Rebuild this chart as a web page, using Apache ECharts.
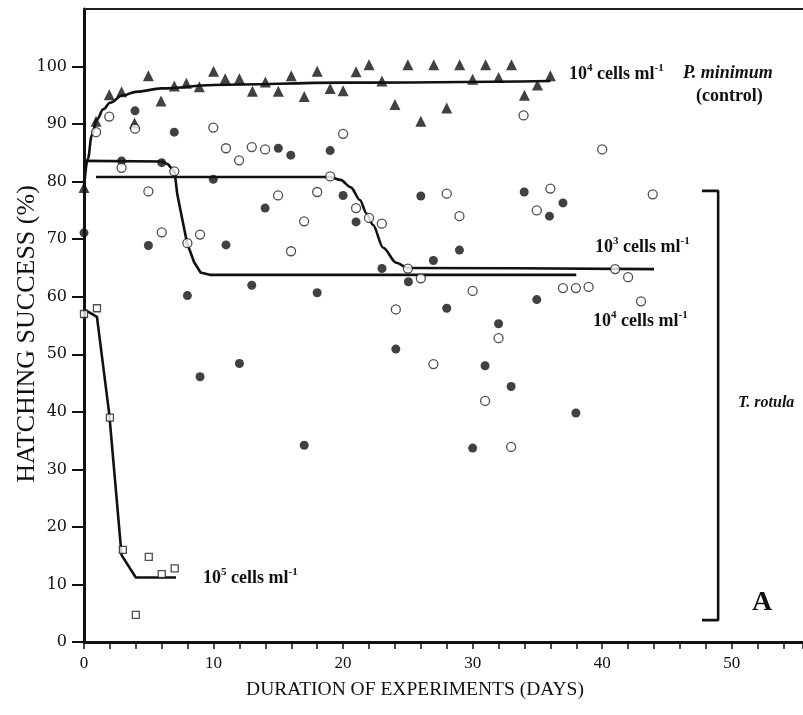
<!DOCTYPE html>
<html>
<head>
<meta charset="utf-8">
<script src="https://cdn.jsdelivr.net/npm/echarts@6/dist/echarts.min.js"></script>
<style>html,body{margin:0;padding:0;background:#fff}#c{width:803px;height:715px}</style>
</head>
<body>
<div id="c"></div>
<script>
// ---- data ----
var controlPts = [[0,79],[0.93,90.5],[1.95,95.1],[2.9,95.6],[3.9,90.2],[4.97,98.4],[5.95,94.0],[6.97,96.6],[7.9,97.1],[8.9,96.5],[10,99.2],[10.9,97.9],[12,97.9],[13,95.7],[14,97.3],[15,95.7],[16,98.4],[17,94.8],[18,99.2],[19,96.2],[20,95.8],[21,99.1],[22,100.3],[23,97.5],[24,93.4],[25,100.3],[26,90.5],[27,100.3],[28,92.8],[29,100.3],[30,97.8],[31,100.3],[32,98.1],[33,100.3],[34,95.0],[35,96.8],[36,98.4]];
var rot1e4Pts = [[0,71.1],[2.9,83.6],[3.94,92.3],[4.97,68.9],[6,83.3],[6.97,88.6],[7.98,60.2],[8.96,46.1],[9.98,80.4],[10.96,69.0],[12,48.4],[12.95,62.0],[13.98,75.4],[15,85.8],[15.96,84.6],[17,34.2],[18,60.7],[19,85.4],[20,77.6],[21,73.0],[23,64.9],[24.07,50.9],[25.04,62.6],[26,77.5],[26.97,66.3],[28,58.0],[28.98,68.1],[30,33.7],[30.96,48.0],[32,55.3],[32.97,44.4],[33.98,78.2],[34.95,59.5],[35.93,74.0],[36.97,76.3],[37.97,39.8]];
var rot1e3Pts = [[0.93,88.6],[1.95,91.3],[2.9,82.4],[3.94,89.2],[4.97,78.3],[6,71.2],[6.97,81.8],[7.98,69.3],[8.96,70.8],[9.98,89.4],[10.96,85.8],[11.97,83.7],[12.95,86.0],[13.98,85.6],[14.98,77.6],[15.98,67.9],[16.99,73.1],[18,78.2],[19,80.9],[20,88.3],[21,75.4],[22,73.7],[22.99,72.7],[24.07,57.8],[25,64.9],[26,63.2],[26.97,48.3],[28,77.9],[28.98,74.0],[30,61.0],[30.96,41.9],[32,52.8],[32.97,33.9],[33.93,91.5],[34.95,75.0],[36,78.8],[36.97,61.5],[37.97,61.5],[38.95,61.7],[40,85.6],[41,64.8],[42,63.4],[43,59.2],[43.9,77.8]];
var rot1e5Pts = [[0,57],[1,58],[2,39],[3,16],[4,4.7],[5,14.8],[6,11.8],[7,12.8]];

var controlFit = [[0,79],[0.3,84],[0.6,88],[1,90.8],[1.5,92.6],[2,93.7],[3,95],[4,95.6],[6,96.2],[10,96.8],[20,97.2],[36,97.5]];
var fit1e4 = [[0,83.6],[6,83.5],[6.5,83],[7,81.6],[7.2,77.8],[7.95,69.4],[8.5,66],[9,64.2],[9.7,63.8],[38,63.8]];
var fit1e3 = [[0.93,80.8],[19,80.8],[19.8,80.3],[20.6,79],[21.3,76.8],[21.8,74.5],[22.3,72.5],[23.1,68.5],[24.1,65.9],[25,65],[44,64.8]];
var fit1e5 = [[0,57.8],[1,56.5],[1.95,39.6],[2.9,15.1],[4,11.2],[7.1,11.2]];
var bracket = [[47.7,78.4],[48.95,78.4],[48.95,3.8],[47.7,3.8]];

var yTicks = [0,10,20,30,40,50,60,70,80,90,100];
var xTickLabels = [0,10,20,30,40,50];

var serif = '"Liberation Serif", "Times New Roman", serif';
var chart = echarts.init(document.getElementById('c'), null, {renderer:'canvas'});

function lineSeries(data, smooth) {
  return {type:'line', data:data, showSymbol:false, symbol:'none', smooth:smooth, smoothMonotone: smooth ? 'x' : undefined,
    lineStyle:{color:'#111', width:2.6}, z:3, silent:true, animation:false};
}
function scatterSeries(data, symbol, size, filled) {
  return {type:'scatter', data:data, symbol:symbol, symbolSize:size, z:5, animation:false,
    itemStyle: filled ? {color:'#111'} : {color:'#fff', borderColor:'#222', borderWidth:1.3}};
}

var rich = {
  b:{fontSize:18, fontFamily:serif, fontWeight:'bold', color:'#111', lineHeight:20, verticalAlign:'bottom'},
  sup:{fontSize:11, fontFamily:serif, fontWeight:'bold', color:'#111', lineHeight:11, verticalAlign:'top'}
};
function cellsLabel(x, y, exp) {
  return {type:'text', left:x, top:y, z:100,
    style:{text:'{b|10}{sup|' + exp + '}{b| cells ml}{sup|-1}', rich:rich, fontFamily:serif, fontSize:18, fill:'#111'}};
}
function plainLabel(x, y, text, size, italic) {
  return {type:'text', left:x, top:y, z:100,
    style:{text:text, fontFamily:serif, fontSize:size, fontWeight:'bold', fontStyle: italic ? 'italic' : 'normal', fill:'#111'}};
}

chart.setOption({
  animation:false,
  backgroundColor:'#fff',
  grid:{left:84, right:0, top:9, bottom:73},
  xAxis:[{
    type:'value', min:0, max:55.5, interval:2, position:'bottom',
    axisLine:{show:true, onZero:false, lineStyle:{color:'#111', width:3}},
    axisTick:{show:true, length:7, lineStyle:{color:'#111', width:1.5}},
    axisLabel:{show:true, customValues:xTickLabels, fontFamily:serif, fontSize:17, color:'#111', margin:13},
    splitLine:{show:false}
  },{
    type:'value', min:0, max:55.5, position:'top',
    axisLine:{show:true, onZero:false, lineStyle:{color:'#222', width:2}},
    axisTick:{show:false}, axisLabel:{show:false}, splitLine:{show:false}
  }],
  yAxis:{
    type:'value', min:0, max:110, interval:10,
    axisLine:{show:true, onZero:false, lineStyle:{color:'#111', width:3}},
    axisTick:{show:true, customValues:yTicks, length:12, lineStyle:{color:'#111', width:2}},
    axisLabel:{show:true, customValues:yTicks, fontFamily:'"DejaVu Serif", serif', fontSize:16, color:'#111', margin:17},
    splitLine:{show:false}
  },
  series:[
    lineSeries(controlFit, 0.4),
    lineSeries(fit1e4, false),
    lineSeries(fit1e3, 0.3),
    lineSeries(fit1e5, false),
    lineSeries(bracket, false),
    scatterSeries(controlPts, 'triangle', 11, true),
    scatterSeries(rot1e4Pts, 'circle', 9, true),
    scatterSeries(rot1e3Pts, 'circle', 9, false),
    scatterSeries(rot1e5Pts, 'rect', 7, false)
  ],
  graphic:[
    cellsLabel(569, 63, '4'),
    plainLabel(683, 64, 'P. minimum', 18, true),
    plainLabel(696, 87, '(control)', 18, false),
    cellsLabel(595, 236, '3'),
    cellsLabel(593, 310, '4'),
    plainLabel(738, 395, 'T. rotula', 16, true),
    cellsLabel(203, 567, '5'),
    plainLabel(752, 589, 'A', 28, false),
    {type:'text', x:415, y:690, z:100,
      style:{text:'DURATION OF EXPERIMENTS (DAYS)', fontFamily:serif, fontSize:19.5, fill:'#111', align:'center', verticalAlign:'middle'}},
    {type:'text', x:27, y:334, rotation:Math.PI/2, z:100,
      style:{text:'HATCHING SUCCESS (%)', fontFamily:serif, fontSize:26, fill:'#111', align:'center', verticalAlign:'middle'}}
  ]
});
</script>
</body>
</html>
